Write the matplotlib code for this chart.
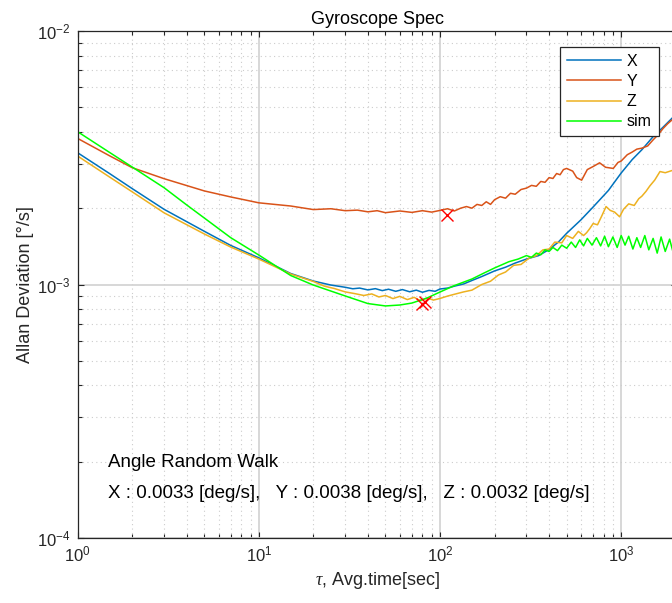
import matplotlib
matplotlib.use("Agg")
import matplotlib.pyplot as plt
from matplotlib.ticker import LogLocator, NullFormatter
import numpy as np

# ---------------- data ----------------
# sigma values are in units of 1e-3 deg/s
tau_x = [1, 1.5, 2, 3, 5, 7, 10, 15, 20, 25, 30, 33, 36, 40, 44, 48, 52, 57, 62, 68,
         74, 80, 87, 94, 100, 110, 120, 135, 150, 170, 200, 230, 260, 300, 350, 400,
         450, 500, 600, 700, 850, 1000, 1150, 1300, 1500, 1700, 2040]
sig_x_milli = [3.31, 2.74, 2.39, 1.98, 1.622, 1.426, 1.274, 1.105, 1.032, 0.995, 0.975,
               0.962, 0.968, 0.952, 0.963, 0.946, 0.958, 0.940, 0.955, 0.936, 0.950,
               0.932, 0.948, 0.940, 0.960, 0.968, 0.985, 1.005, 1.037, 1.075, 1.131,
               1.17, 1.215, 1.26, 1.30, 1.374, 1.47, 1.592, 1.80, 2.022, 2.35, 2.754,
               3.11, 3.40, 3.83, 4.17, 4.75]

tau_y = [1, 1.5, 2, 3, 5, 7, 10, 15, 20, 25, 30, 35, 40, 45, 50, 60, 70, 80, 90, 100,
         110, 120, 130, 140, 150, 160, 170, 180, 190, 200, 215, 230, 245, 260, 280, 300,
         320, 340, 360, 380, 400, 420, 440, 460, 480, 500, 540, 568, 605, 650, 700, 760,
         820, 904, 960, 1000, 1080, 1150, 1220, 1300, 1400, 1500, 1600, 1700, 1800, 2040]
sig_y_milli = [3.77, 3.22, 2.89, 2.615, 2.34, 2.215, 2.10, 2.04, 1.975, 1.99, 1.955, 1.965,
               1.935, 1.955, 1.92, 1.95, 1.925, 1.955, 1.93, 1.96, 1.99, 1.95, 2.00, 2.03,
               2.00, 2.07, 2.05, 2.12, 2.07, 2.16, 2.22, 2.19, 2.29, 2.27, 2.37, 2.40,
               2.46, 2.44, 2.55, 2.53, 2.64, 2.62, 2.74, 2.71, 2.84, 2.87, 2.80, 2.64,
               2.58, 2.84, 2.92, 3.02, 2.90, 2.87, 3.03, 3.07, 3.25, 3.33, 3.42, 3.45,
               3.52, 3.72, 3.90, 4.12, 4.30, 4.65]

tau_z = [1, 1.5, 2, 3, 5, 7, 10, 15, 20, 23, 26, 30, 34, 38, 42, 46, 50, 55, 60, 66,
         72, 78, 85, 92, 100, 110, 120, 135, 150, 170, 190, 210, 230, 255, 280, 310,
         340, 370, 400, 430, 470, 500, 540, 580, 620, 644, 670, 700, 740, 780, 825,
         870, 920, 980, 1030, 1100, 1180, 1250, 1300, 1370, 1440, 1530, 1637, 1750, 2040]
sig_z_milli = [3.213, 2.655, 2.321, 1.918, 1.583, 1.405, 1.26, 1.10, 1.028, 0.985, 0.965,
               0.935, 0.920, 0.905, 0.918, 0.893, 0.905, 0.880, 0.898, 0.872, 0.890,
               0.862, 0.885, 0.868, 0.881, 0.900, 0.915, 0.935, 0.95, 1.00, 1.03, 1.09,
               1.12, 1.19, 1.20, 1.27, 1.30, 1.37, 1.38, 1.47, 1.46, 1.56, 1.52, 1.62,
               1.56, 1.60, 1.66, 1.74, 1.72, 1.86, 2.03, 1.96, 1.93, 1.85, 1.98, 2.08,
               2.05, 2.18, 2.23, 2.33, 2.45, 2.58, 2.79, 2.76, 2.86]

tau_s = [1, 1.5, 2, 3, 4, 5, 7, 10, 15, 20, 30, 40, 50, 60, 70, 85, 100, 120, 150, 175, 200,
         240, 270, 300, 320, 340, 360, 380, 400, 420, 445, 470, 500, 530, 560, 590, 620,
         650, 690, 730, 770, 810, 850, 900, 950, 1000, 1050, 1100, 1160, 1220, 1280,
         1350, 1420, 1500, 1580, 1660, 1750, 1850, 1950, 2040]
sig_s_milli = [4.007, 3.32, 2.907, 2.409, 2.06, 1.83, 1.53, 1.307, 1.085, 0.995, 0.901, 0.841,
               0.823, 0.830, 0.845, 0.885, 0.934, 0.99, 1.051, 1.11, 1.162, 1.23, 1.26,
               1.30, 1.28, 1.33, 1.31, 1.37, 1.35, 1.40, 1.36, 1.43, 1.39, 1.47, 1.40,
               1.50, 1.42, 1.52, 1.43, 1.53, 1.42, 1.55, 1.41, 1.54, 1.40, 1.56, 1.43,
               1.55, 1.38, 1.53, 1.40, 1.56, 1.37, 1.52, 1.33, 1.54, 1.35, 1.51, 1.31, 1.48]

# red cross markers
tau_mark = [79.3, 82.7, 109]
sig_mark_milli = [0.837, 0.855, 1.88]

series_names = ["X", "Y", "Z", "sim"]
arw_values = [0.0033, 0.0038, 0.0032]

# ---------------- style ----------------
plt.rcParams["font.family"] = ["Liberation Sans", "DejaVu Sans"]
plt.rcParams["mathtext.fontset"] = "custom"
plt.rcParams["mathtext.rm"] = "Liberation Sans"
plt.rcParams["mathtext.it"] = "Liberation Serif:italic"
plt.rcParams["mathtext.bf"] = "Liberation Sans:bold"

c_x = "#0072BD"
c_y = "#D95319"
c_z = "#EDB120"
c_s = "#00FF00"
ink = "#262626"

W, H = 672, 603
fig = plt.figure(figsize=(W / 100, H / 100), dpi=100)
left_px, right_px, top_px, bot_px = 77.6, 677, 31, 538
ax = fig.add_axes([left_px / W, (H - bot_px) / H, (right_px - left_px) / W,
                   (bot_px - top_px) / H])

scale = 1e-3
ax.plot(tau_x, np.array(sig_x_milli) * scale, color=c_x, lw=1.1, label=series_names[0])
ax.plot(tau_y, np.array(sig_y_milli) * scale, color=c_y, lw=1.1, label=series_names[1])
ax.plot(tau_z, np.array(sig_z_milli) * scale, color=c_z, lw=1.1, label=series_names[2])
ax.plot(tau_s, np.array(sig_s_milli) * scale, color=c_s, lw=1.1, label=series_names[3])
ax.plot(tau_mark, np.array(sig_mark_milli) * scale, linestyle="none", marker="x",
        color="#FF0000", markersize=8, markeredgewidth=1.0)

ax.set_xscale("log")
ax.set_yscale("log")
ax.set_xlim(1, 10 ** ((right_px - left_px) / 181.2))
ax.set_ylim(1e-4, 1e-2)

ax.xaxis.set_major_locator(LogLocator(base=10, numticks=10))
ax.xaxis.set_minor_locator(LogLocator(base=10, subs=np.arange(2, 10), numticks=20))
ax.yaxis.set_major_locator(LogLocator(base=10, numticks=10))
ax.yaxis.set_minor_locator(LogLocator(base=10, subs=np.arange(2, 10), numticks=20))
ax.xaxis.set_minor_formatter(NullFormatter())
ax.yaxis.set_minor_formatter(NullFormatter())

ax.grid(True, which="major", color="#d4d4d4", lw=1.3, ls="-")
ax.grid(True, which="minor", color="#cccccc", lw=0.8, ls=(0, (1, 3)))
ax.set_axisbelow(True)

ax.tick_params(which="both", direction="in", top=True, right=True, colors=ink,
               labelsize=12, width=0.8)
ax.tick_params(which="major", length=4.5, pad=5)
ax.tick_params(which="minor", length=2.7)
for sp in ax.spines.values():
    sp.set_color(ink)
    sp.set_linewidth(0.9)

ax.set_title("Gyroscope Spec", fontsize=13, color="black", pad=5)
ax.set_xlabel(r"$\tau$, Avg.time[sec]", fontsize=13, color=ink, labelpad=4)
ax.set_ylabel("Allan Deviation [°/s]", fontsize=13, color=ink, labelpad=2)

ax.text(0.051, 0.148, "Angle Random Walk", transform=ax.transAxes, fontsize=13.5,
        va="center", ha="left", color="black")
ax.text(0.051, 0.088,
        "X : %.4f [deg/s],   Y : %.4f [deg/s],   Z : %.4f [deg/s]" % tuple(arw_values),
        transform=ax.transAxes, fontsize=13.5, va="center", ha="left", color="black")

leg = ax.legend(loc="upper right", bbox_to_anchor=(659 / W, 1 - 46.7 / H),
                bbox_transform=fig.transFigure, borderaxespad=0, fontsize=11.5,
                handlelength=3.4, handletextpad=0.35, labelspacing=0.32,
                borderpad=0.45, fancybox=False, framealpha=1, edgecolor=ink)
leg.get_frame().set_linewidth(0.9)

fig.savefig("out.png", dpi=100)
